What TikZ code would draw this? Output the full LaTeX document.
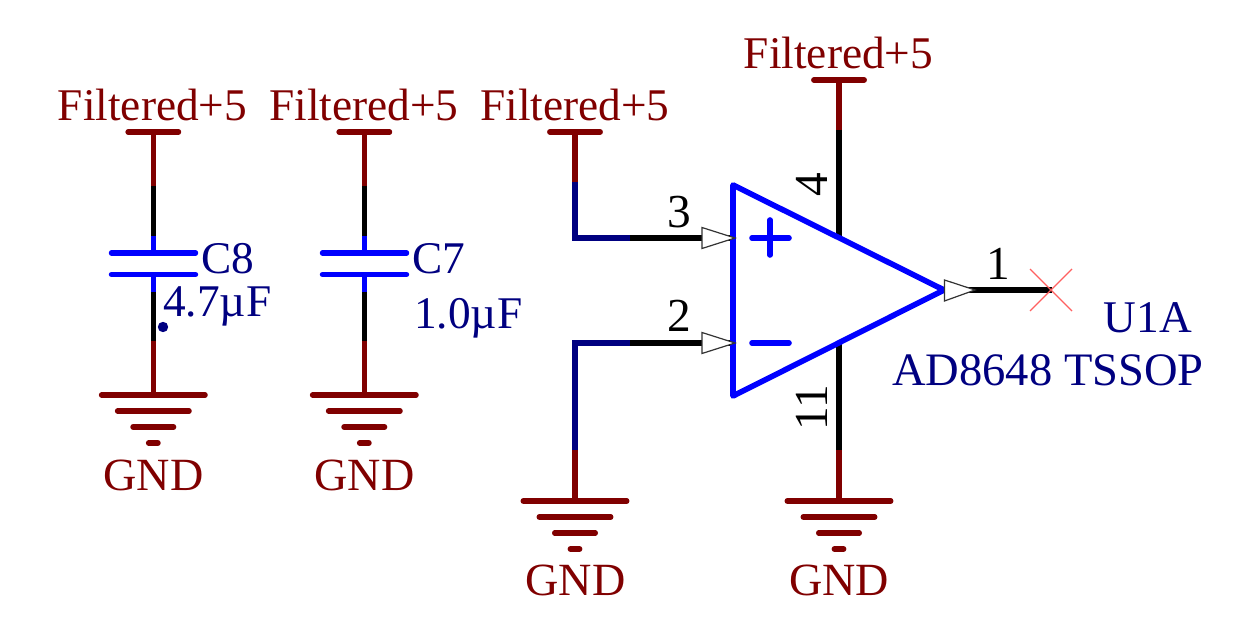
\documentclass[tikz,border=0pt]{standalone}
\usepackage{fontspec}
\setmainfont{Liberation Serif}
\definecolor{pwr}{HTML}{800000}
\definecolor{desig}{HTML}{000080}
\definecolor{body}{HTML}{0000FF}
\definecolor{nc}{HTML}{FF6060}
\tikzset{
  x=0.75pt,y=-0.75pt,
  lbl/.style={anchor=base,inner sep=0pt,font=\fontsize{34pt}{36pt}\selectfont},
  pwrtext/.style={lbl,text=pwr},
  gndtext/.style={lbl,text=pwr,font=\fontsize{34.6pt}{36pt}\selectfont},
  destext/.style={lbl,text=desig},
  pintext/.style={lbl,text=black,font=\fontsize{35.5pt}{36pt}\selectfont},
  wire/.style={line width=3.9pt,line cap=butt},
  pwrw/.style={wire,draw=pwr},
  navw/.style={wire,draw=desig,line join=miter},
  blkw/.style={wire,draw=black},
  bluew/.style={wire,draw=body},
  bar/.style={line width=4.1pt,line cap=round,draw=pwr},
  plate/.style={line width=4.1pt,line cap=round,draw=body},
  amp/.style={line width=4.2pt,line join=round,line cap=round,draw=body},
  pintri/.style={draw=black!80,line width=0.9pt,fill=white},
}
\newcommand{\pwrbar}[2]{% name, position
  \coordinate (#1) at #2;
  \draw[bar] ([xshift=-18.9pt]#1) -- ([xshift=18.9pt]#1);
}
\newcommand{\gndsym}[2]{%
  \coordinate (#1) at #2;
  \draw[bar] ([xshift=-38.8pt]#1) -- ([xshift=38.8pt]#1);
  \draw[bar] ([xshift=-26.8pt,yshift=-12pt]#1) -- ([xshift=26.8pt,yshift=-12pt]#1);
  \draw[bar] ([xshift=-15.2pt,yshift=-24pt]#1) -- ([xshift=15.2pt,yshift=-24pt]#1);
  \draw[bar] ([xshift=-3.5pt,yshift=-36pt]#1) -- ([xshift=3.5pt,yshift=-36pt]#1);
}
\begin{document}
\begin{tikzpicture}
\useasboundingbox (0,0) rectangle (1239,630);

% C8
\pwrbar{p8}{(153.3,132)}
\coordinate (c8a) at (153.3,186); \coordinate (c8b) at (153.3,236); \coordinate (c8c) at (153.3,253);
\coordinate (c8d) at (153.3,274); \coordinate (c8e) at (153.3,292); \coordinate (c8f) at (153.3,341);
\gndsym{g8}{(153.3,395)}
\draw[pwrw] (p8) -- (c8a);
\draw[blkw] (c8a) -- (c8b);
\draw[bluew] (c8b) -- (c8c);
\draw[bluew] (c8d) -- (c8e);
\draw[blkw] (c8e) -- (c8f);
\draw[pwrw] (c8f) -- (g8);
\draw[plate] (111.5,253) -- (195.5,253);
\draw[plate] (111.5,274.5) -- (195.5,274.5);
\fill[desig] (163,327) circle (3.9pt);
\node[pwrtext] (t8) at (152.5,121) {Filtered+5};
\node[gndtext] (tg8) at (153.5,491) {GND};
\node[destext,anchor=base west] (n8) at (201,274) {C8};
\node[destext,anchor=base west] (v8) at (163,317) {4.7µF};

% C7
\pwrbar{p7}{(364.3,132)}
\coordinate (c7a) at (364.3,186); \coordinate (c7b) at (364.3,236); \coordinate (c7c) at (364.3,253);
\coordinate (c7d) at (364.3,274); \coordinate (c7e) at (364.3,292); \coordinate (c7f) at (364.3,341);
\gndsym{g7}{(364.3,395)}
\draw[pwrw] (p7) -- (c7a);
\draw[blkw] (c7a) -- (c7b);
\draw[bluew] (c7b) -- (c7c);
\draw[bluew] (c7d) -- (c7e);
\draw[blkw] (c7e) -- (c7f);
\draw[pwrw] (c7f) -- (g7);
\draw[plate] (322.5,253) -- (406.5,253);
\draw[plate] (322.5,274.5) -- (406.5,274.5);
\node[pwrtext] (t7) at (364,121) {Filtered+5};
\node[gndtext] (tg7) at (364.5,491) {GND};
\node[destext,anchor=base west] (n7) at (412,274) {C7};
\node[destext,anchor=base west] (v7) at (414,329) {1.0µF};

% Pin 3 net
\pwrbar{p3}{(575,132)}
\coordinate (w3a) at (575,182); \coordinate (w3b) at (575,238); \coordinate (w3c) at (630,238);
\coordinate (w3d) at (735,238);
\draw[pwrw] (p3) -- (w3a);
\draw[navw] (w3a) -- (w3b) -- (w3c);
\draw[blkw] (w3c) -- (w3d);
\node[pwrtext] (t3) at (575,121) {Filtered+5};

% Pin 2 net
\gndsym{g2}{(575,501)}
\coordinate (w2a) at (575,450); \coordinate (w2b) at (575,343); \coordinate (w2c) at (630,343);
\coordinate (w2d) at (735,343);
\draw[pwrw] (g2) -- (w2a);
\draw[navw] (w2a) -- (w2b) -- (w2c);
\draw[blkw] (w2c) -- (w2d);
\node[gndtext] (tg2) at (575.5,595) {GND};

% Pin 4
\pwrbar{p4}{(839,80)}
\coordinate (w4a) at (839,130); \coordinate (w4b) at (839,238);
\draw[pwrw] (p4) -- (w4a);
\draw[blkw] (w4a) -- (w4b);
\node[pwrtext] (t4) at (838.5,69) {Filtered+5};

% Pin 11
\gndsym{g11}{(839,501)}
\coordinate (w11a) at (839,450); \coordinate (w11b) at (839,343);
\draw[pwrw] (g11) -- (w11a);
\draw[blkw] (w11a) -- (w11b);
\node[gndtext] (tg11) at (839,595) {GND};

% Output
\coordinate (o1) at (944,290); \coordinate (o2) at (1052,290);
\draw[blkw] (o1) -- (o2);

% Amp body
\coordinate (a1) at (733,185); \coordinate (a2) at (733,396);
\draw[amp] (a1) -- (a2) -- (o1) -- cycle;
\draw[amp] (752,238) -- (789,238);
\draw[amp] (770,220) -- (770,255);
\draw[amp] (752,343) -- (789,343);

% Pin triangles
\draw[pintri] (702,227.5) -- (735,238) -- (702,248.5) -- cycle;
\draw[pintri] (702,332.5) -- (735,343) -- (702,353.5) -- cycle;
\draw[pintri] (944.5,280) -- (975,290) -- (944.5,301) -- cycle;

% No-connect
\draw[nc,line width=0.9pt] (1030,269) -- (1072,311);
\draw[nc,line width=0.9pt] (1030,311) -- (1072,269);

% Pin numbers
\node[pintext] (l3) at (679,228) {3};
\node[pintext] (l2) at (679,332) {2};
\node[pintext] (l1) at (998,280) {1};
\node[pintext,rotate=90,anchor=base] (l4) at (827,185) {4};
\node[pintext,rotate=90,anchor=base] (l11) at (827,408) {11};

% Designators
\node[destext] (u1) at (1148,333) {U1A};
\node[destext,font=\fontsize{34.9pt}{36pt}\selectfont] (u2) at (1048,386) {AD8648 TSSOP};
\end{tikzpicture}
\end{document}
